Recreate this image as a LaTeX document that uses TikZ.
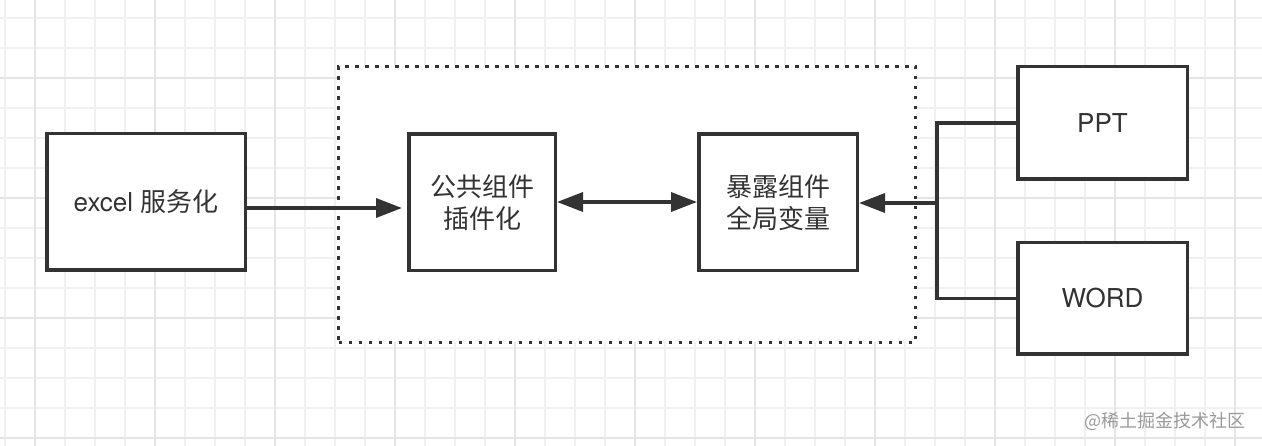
\documentclass[tikz,border=0pt]{standalone}
\usepackage{fontspec}
\setmainfont{TeX Gyre Heros}
\newfontfamily\cjk{Noto Sans CJK SC}
\usetikzlibrary{arrows.meta}
\definecolor{ink}{HTML}{333333}
\definecolor{gridminor}{HTML}{F0F0F0}
\definecolor{gridmajor}{HTML}{E4E4E4}
\definecolor{wm}{HTML}{9A9A9A}
\tikzset{
  box/.style={draw=ink, line width=3.5pt, fill=white, inner sep=0pt, text=ink,
    align=center, font=\fontsize{26}{32}\selectfont},
  groupbox/.style={draw=ink, line width=3.7pt, fill=white, inner sep=0pt,
    dash pattern=on 3.7pt off 6.3pt},
  arr/.style={draw=ink, line width=3.5pt, -{Triangle[length=26pt,width=19pt]}},
  dblarr/.style={draw=ink, line width=3.5pt, {Triangle[length=26pt,width=19pt]}-{Triangle[length=26pt,width=19pt]}},
  link/.style={draw=ink, line width=3.5pt},
  minorline/.style={draw=gridminor, line width=1.3pt},
  majorline/.style={draw=gridmajor, line width=1.5pt},
  watermark/.style={text=wm, font=\cjk\fontsize{18}{20}\selectfont, inner sep=0pt}
}
\begin{document}
\begin{tikzpicture}[x=1pt,y=-1pt]
\useasboundingbox (0,0) rectangle (1262,446);
\fill[white] (0,0) rectangle (1262,446);
% grid
\foreach \k in {0,...,42} {\draw[minorline] (5+30*\k,0) -- (5+30*\k,446);}
\foreach \k in {0,...,14} {\draw[minorline] (0,18+30*\k) -- (1262,18+30*\k);}
\foreach \k in {0,...,10} {\draw[majorline] (35+120*\k,0) -- (35+120*\k,446);}
\foreach \k in {0,...,3} {\draw[majorline] (0,78+120*\k) -- (1262,78+120*\k);}

% dotted group
\node[groupbox, minimum width=577pt, minimum height=276pt] (grp) at (627,204.5) {};

% boxes
\node[box, minimum width=198.5pt, minimum height=136.5pt] (excel) at (146,202) {excel {\cjk 服务化}};
\node[box, minimum width=146.5pt, minimum height=136.5pt] (plug) at (482,202.5) {\cjk 公共组件\\\cjk 插件化};
\node[box, minimum width=158.5pt, minimum height=136.5pt] (expo) at (778,202.5) {\cjk 暴露组件\\\cjk 全局变量};
\node[box, minimum width=169.5pt, minimum height=112.5pt] (ppt) at (1102.5,123) {PPT};
\node[box, minimum width=169.5pt, minimum height=111.5pt] (word) at (1102.5,298.5) {WORD};

% connectors
\coordinate (j) at (937,203);
\draw[arr, shorten >=5pt] ([yshift=-6pt]excel.east) -- ([yshift=-5.5pt]plug.west);
\draw[dblarr] ([yshift=0.5pt]plug.east) -- ([yshift=0.5pt]expo.east -| expo.west);
\draw[link] (ppt.west) -| (j);
\draw[link] (word.west) -| (j);
\draw[arr] (j) -- (expo.east |- j);

% watermark
\node[watermark, anchor=east] (wmk) at (1246,421) {@稀土掘金技术社区};
\end{tikzpicture}
\end{document}
